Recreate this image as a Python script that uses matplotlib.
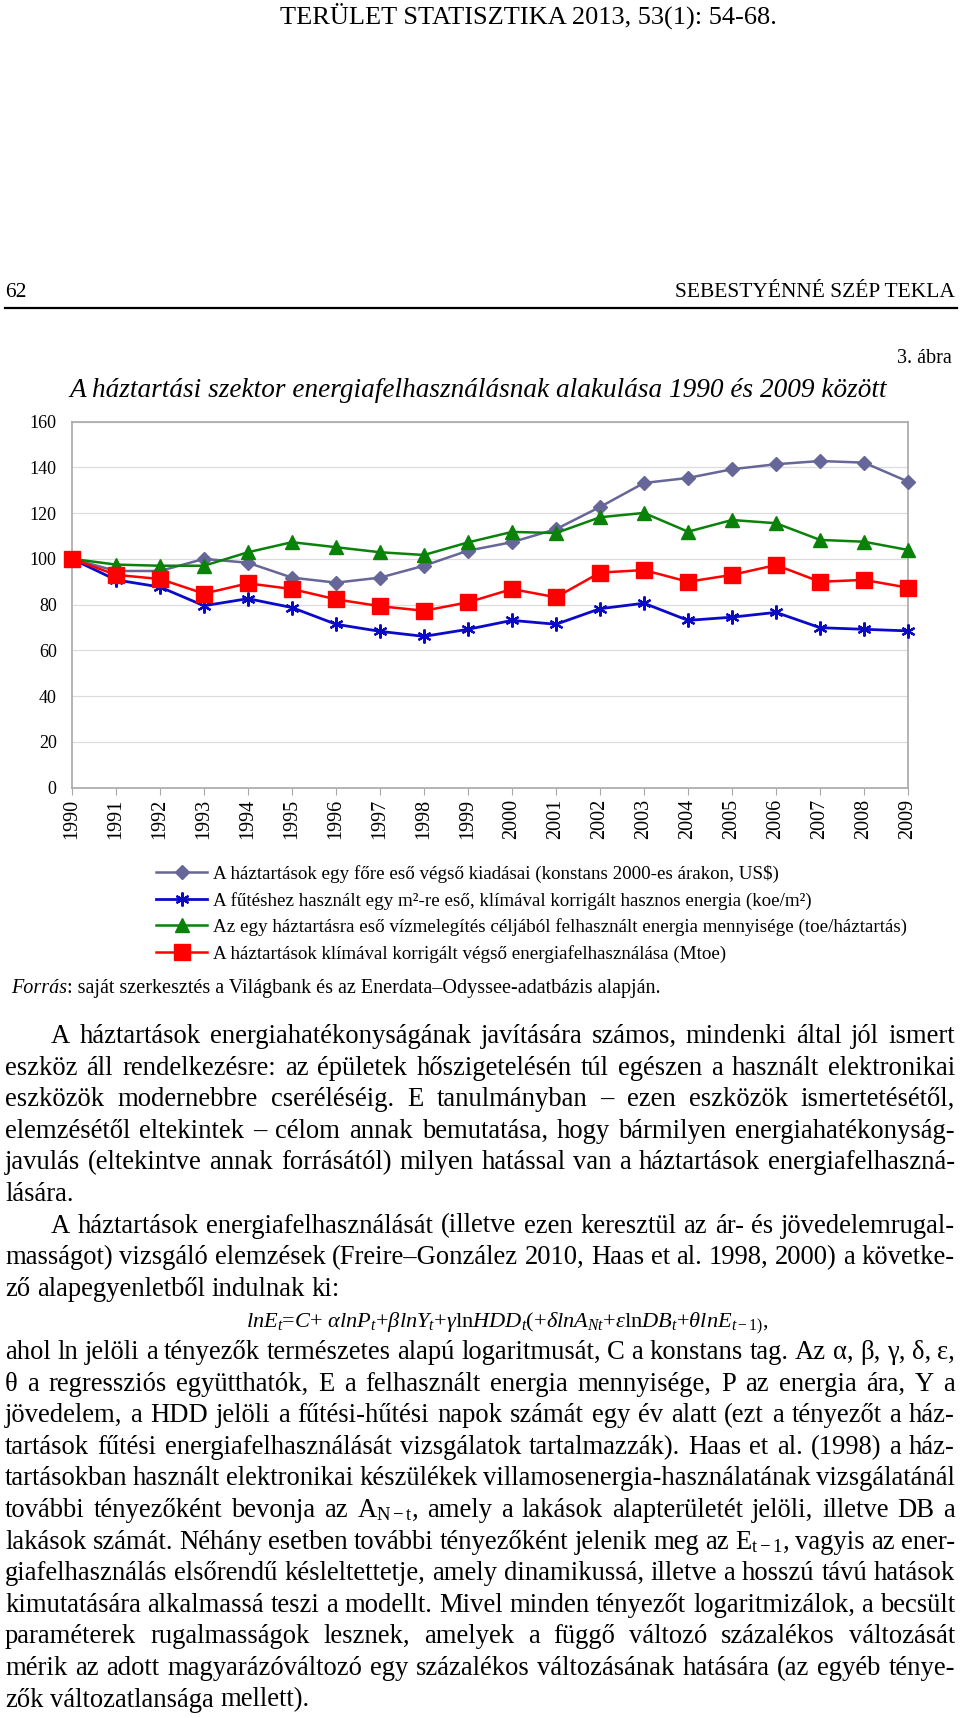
import numpy as np
import matplotlib.pyplot as plt

plt.rcParams['font.family'] = ['Liberation Serif', 'DejaVu Serif']
plt.rcParams['mathtext.fontset'] = 'custom'
plt.rcParams['mathtext.rm'] = 'Liberation Serif'
plt.rcParams['mathtext.it'] = 'Liberation Serif:italic'

# ADATOK (leolvasva az abrarol, 1990 = 100)
years = list(range(1990, 2010))
kiadas = [100, 94.7, 94.7, 100, 98.3, 91.8, 89.6, 91.8, 97.0, 103.6,
          107.3, 113.0, 122.7, 133.2, 135.4, 139.2, 141.4, 142.8, 142.1, 133.8]
futes = [100, 90.8, 87.7, 79.5, 82.6, 78.7, 71.4, 68.3, 66.1, 69.2,
         73.1, 71.4, 78.2, 80.6, 73.1, 74.5, 76.6, 69.9, 69.2, 68.5]
vizmeleg = [100, 97.5, 97.0, 97.0, 102.9, 107.3, 105.1, 102.9, 101.7, 107.2,
            111.8, 111.3, 118.2, 120.1, 111.9, 117.0, 115.6, 108.3, 107.5, 103.9]
energia = [100, 93.0, 91.2, 84.8, 89.3, 86.8, 82.3, 79.3, 77.3, 81.0,
           86.8, 83.2, 94.0, 95.1, 90.0, 93.0, 97.3, 90.0, 90.8, 87.4]

labels = [r'A háztartások egy főre eső végső kiadásai (konstans 2000-es árakon, US\$)',
          'A fűtéshez használt egy m²-re eső, klímával korrigált hasznos energia (koe/m²)',
          'Az egy háztartásra eső vízmelegítés céljából felhasznált energia mennyisége (toe/háztartás)',
          'A háztartások klímával korrigált végső energiafelhasználása (Mtoe)']
yticks = list(range(0, 161, 20))

formula = (r'$lnE_t$=$C$+ $\alpha lnP_t$+$\beta lnY_t$+$\gamma$ln$HDD_t$(+$\delta lnA_{Nt}$'
           r'+$\varepsilon$ln$DB_t$+$\theta lnE_{t-1)}$,')

body_lines = [
    "A háztartások energiahatékonyságának javítására számos, mindenki által jól ismert",
    "eszköz áll rendelkezésre: az épületek hőszigetelésén túl egészen a használt elektronikai",
    "eszközök modernebbre cseréléséig. E tanulmányban – ezen eszközök ismertetésétől,",
    "elemzésétől eltekintek – célom annak bemutatása, hogy bármilyen energiahatékonyság-",
    "javulás (eltekintve annak forrásától) milyen hatással van a háztartások energiafelhaszná-",
    "lására.",
    "A háztartások energiafelhasználását (illetve ezen keresztül az ár- és jövedelemrugal-",
    "masságot) vizsgáló elemzések (Freire–González 2010, Haas et al. 1998, 2000) a követke-",
    "ző alapegyenletből indulnak ki:",
    formula,
    "ahol ln jelöli a tényezők természetes alapú logaritmusát, C a konstans tag. Az α, β, γ, δ, ε,",
    "θ a regressziós együtthatók, E a felhasznált energia mennyisége, P az energia ára, Y a",
    "jövedelem, a HDD jelöli a fűtési-hűtési napok számát egy év alatt (ezt a tényezőt a ház-",
    "tartások fűtési energiafelhasználását vizsgálatok tartalmazzák). Haas et al. (1998) a ház-",
    "tartásokban használt elektronikai készülékek villamosenergia-használatának vizsgálatánál",
    r"további tényezőként bevonja az A$_{\mathrm{N-t}}$, amely a lakások alapterületét jelöli, illetve DB a",
    r"lakások számát. Néhány esetben további tényezőként jelenik meg az E$_{\mathrm{t-1}}$, vagyis az ener-",
    "giafelhasználás elsőrendű késleltettetje, amely dinamikussá, illetve a hosszú távú hatások",
    "kimutatására alkalmassá teszi a modellt. Mivel minden tényezőt logaritmizálok, a becsült",
    "paraméterek rugalmasságok lesznek, amelyek a függő változó százalékos változását",
    "mérik az adott magyarázóváltozó egy százalékos változásának hatására (az egyéb ténye-",
    "zők változatlansága mellett).",
]
indented = [0, 6]
ragged = [5, 8, 21]
centered = [9]

W, H = 960, 1718
fig = plt.figure(figsize=(W / 100, H / 100), dpi=100)
renderer = fig.canvas.get_renderer()


def fxy(x, y):
    return x / W, 1 - y / H


# FEJLEC
fig.text(*fxy(528, 24), 'TERÜLET STATISZTIKA 2013, 53(1): 54-68.', fontsize=19, ha='center', va='baseline')
fig.text(*fxy(5, 297), '62', fontsize=15.5, ha='left', va='baseline')
fig.text(*fxy(955, 297), 'SEBESTYÉNNÉ SZÉP TEKLA', fontsize=15.5, ha='right', va='baseline')
fig.add_artist(plt.Line2D([5 / W, 957 / W], [1 - 308 / H, 1 - 308 / H], color='black', lw=1.6))
fig.text(*fxy(952, 363), '3. ábra', fontsize=14.5, ha='right', va='baseline')
fig.text(*fxy(478, 397), 'A háztartási szektor energiafelhasználásnak alakulása 1990 és 2009 között',
         fontsize=19.6, style='italic', ha='center', va='baseline')

# DIAGRAM
ax = fig.add_axes([72 / W, 1 - 787.5 / H, 836 / W, 365.8 / H])
ax.plot(years, kiadas, color='#666699', lw=1.8, marker='D', ms=7, label=labels[0], clip_on=False, zorder=3)
ax.plot(years, futes, color='#0a0ac8', lw=2.0, marker=(6, 2, 0), ms=10, mew=1.6, label=labels[1],
        clip_on=False, zorder=4)
ax.plot(years, vizmeleg, color='#0a820a', lw=1.8, marker='^', ms=10, label=labels[2], clip_on=False, zorder=5)
ax.plot(years, energia, color='#ff0000', lw=1.8, marker='s', ms=11, label=labels[3], clip_on=False, zorder=6)

ax.set_xlim(1990, 2009)
ax.set_ylim(0, 160)
ax.set_yticks(yticks)
ax.set_xticks(years)
ax.set_xticklabels([str(y) for y in years], rotation=90)
ax.grid(axis='y', color='#dcdcdc', lw=0.9)
ax.set_axisbelow(True)
for s in ax.spines.values():
    s.set_color('#a8a8a8')
    s.set_linewidth(1.2)
ax.tick_params(axis='y', length=0, pad=11, labelsize=13)
ax.tick_params(axis='x', length=5, color='#a8a8a8', pad=3, labelsize=14.5)

fig.legend(loc='upper left', bbox_to_anchor=(156 / W, 1 - 865 / H), frameon=False,
           fontsize=13.7, handlelength=2.7, handletextpad=0.3, labelspacing=0.45,
           borderpad=0, borderaxespad=0)

fig.text(*fxy(11, 993), 'Forrás', fontsize=14.5, style='italic', ha='left', va='baseline')
t = fig.text(0, 0, 'Forrás', fontsize=14.5, style='italic')
fw = t.get_window_extent(renderer).width
t.remove()
fig.text(*fxy(11 + fw, 993), ': saját szerkesztés a Világbank és az Enerdata–Odyssee-adatbázis alapján.',
         fontsize=14.5, ha='left', va='baseline')


# FOLYO SZOVEG (sorkizart)
def widths(words, size):
    objs = [fig.text(0, 0, w, fontsize=size) for w in words]
    ws = [o.get_window_extent(renderer).width for o in objs]
    for o in objs:
        o.remove()
    return ws


x_left, x_right, indent = 5, 955, 46
base = 16
need = 0
for i, line in enumerate(body_lines):
    if i in ragged or i in centered:
        continue
    ws = widths(line.split(' '), base)
    start = x_left + (indent if i in indented else 0)
    nat = sum(ws) + 0.22 * base * 100 / 72 * (len(ws) - 1)
    need = max(need, nat / (x_right - start))
body_size = base / need

y0, step = 1043, 31.6
for i, line in enumerate(body_lines):
    y = y0 + i * step
    if i in centered:
        fig.text(*fxy(507, y), line, fontsize=body_size * 0.84, ha='center', va='baseline')
        continue
    words = line.split(' ')
    ws = widths(words, body_size)
    start = x_left + (indent if i in indented else 0)
    if i in ragged:
        gap = 0.25 * body_size * 100 / 72
    else:
        gap = (x_right - start - sum(ws)) / (len(words) - 1)
    x = start
    for w, wd in zip(words, ws):
        fig.text(*fxy(x, y), w, fontsize=body_size, ha='left', va='baseline')
        x += wd + gap

fig.savefig('out.png', dpi=100)
